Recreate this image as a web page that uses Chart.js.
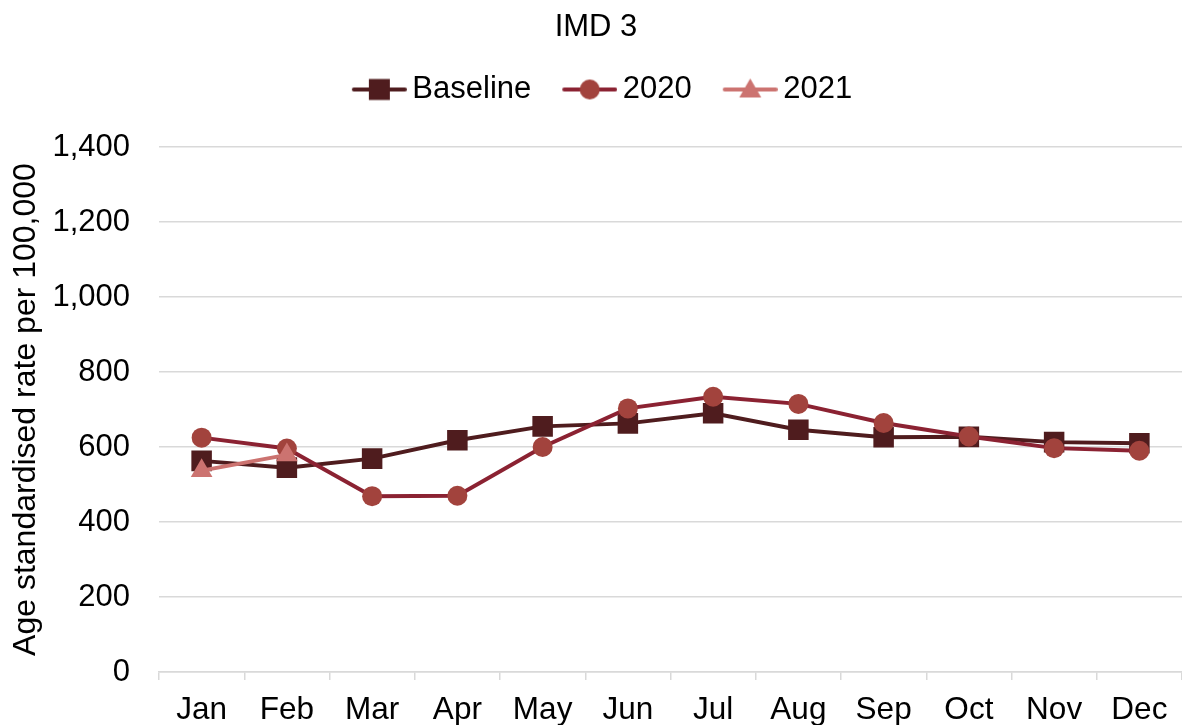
<!DOCTYPE html>
<html>
<head>
<meta charset="utf-8">
<script src="https://cdn.jsdelivr.net/npm/chart.js@4.4.1/dist/chart.umd.min.js"></script>
<style>
  html, body { margin: 0; padding: 0; background: #fff; }
  #wrap { width: 1182px; height: 725px; overflow: hidden; }
</style>
</head>
<body>
<div id="wrap"><canvas id="chart" width="1182" height="725"></canvas></div>
<script>
// data
const months = ['Jan', 'Feb', 'Mar', 'Apr', 'May', 'Jun', 'Jul', 'Aug', 'Sep', 'Oct', 'Nov', 'Dec'];
const baseline = [563, 545, 569, 618, 655, 663, 690, 646, 626, 627, 613, 610];
const y2020 = [625, 596, 469, 470, 600, 703, 734, 715, 664, 628, 597, 590];
const y2021 = [537, 579];
const yTicks = [0, 200, 400, 600, 800, 1000, 1200, 1400];

const FONT = '"Liberation Sans", Arial, sans-serif';
const GRID = '#d9d9d9';

Chart.defaults.font.family = FONT;
Chart.defaults.color = '#000';

// legend icon: line with the marker in the middle
function legendIcon(lineColor, markColor, style) {
    const c = document.createElement('canvas');
    c.width = 65;
    c.height = 30;
    const ctx = c.getContext('2d');
    ctx.strokeStyle = lineColor;
    ctx.lineWidth = 4;
    ctx.lineCap = 'round';
    ctx.beginPath();
    ctx.moveTo(12, 15);
    ctx.lineTo(63, 15);
    ctx.stroke();
    ctx.fillStyle = markColor;
    const cx = 37.5, cy = 15;
    ctx.beginPath();
    if (style === 'rect') {
        ctx.rect(cx - 10.5, cy - 10.5, 21, 21);
    } else if (style === 'circle') {
        ctx.arc(cx, cy, 10, 0, Math.PI * 2);
    } else {
        ctx.moveTo(cx, cy - 11);
        ctx.lineTo(cx + 11, cy + 8);
        ctx.lineTo(cx - 11, cy + 8);
        ctx.closePath();
    }
    ctx.fill();
    return c;
}

const series = [
    { label: 'Baseline', data: baseline, line: '#4f1c1e', mark: '#4f1c1e', style: 'rect', r: 14.5 },
    { label: '2020', data: y2020, line: '#8b2232', mark: '#a2433d', style: 'circle', r: 10 },
    { label: '2021', data: y2021, line: '#cc7370', mark: '#cc7370', style: 'triangle', r: 12.5 }
];

// legend needs more room below it, and sits a little right of centre
const legendSpacer = {
    id: 'legendSpacer',
    beforeInit(chart) {
        const fit = chart.legend.fit;
        chart.legend.fit = function () {
            fit.call(this);
            this.height += 32;
        };
    },
    afterLayout(chart) {
        chart.legend.left += 6;
        chart.legend.right += 6;
    }
};

new Chart(document.getElementById('chart'), {
    type: 'line',
    data: {
        labels: months,
        datasets: series.map((s, i) => ({
            label: s.label,
            data: s.data,
            borderColor: s.line,
            backgroundColor: s.mark,
            pointBackgroundColor: s.mark,
            pointBorderWidth: 0,
            pointStyle: s.style,
            pointRadius: s.r,
            borderWidth: 4,
            tension: 0,
            fill: false,
            order: 3 - i
        }))
    },
    options: {
        responsive: false,
        animation: false,
        devicePixelRatio: 1,
        // the plot runs past the right edge of the picture
        layout: { autoPadding: false, padding: { left: 1, right: -9, top: 0, bottom: 0 } },
        plugins: {
            title: {
                display: true,
                text: 'IMD 3',
                font: { size: 31, weight: 'normal', lineHeight: 1 },
                padding: { top: 12, bottom: 0 }
            },
            legend: {
                display: true,
                labels: {
                    font: { size: 31 },
                    usePointStyle: true,
                    pointStyleWidth: 45,
                    boxWidth: 45,
                    padding: 31,
                    generateLabels: () => series.map((s, i) => ({
                        text: s.label,
                        pointStyle: legendIcon(s.line, s.mark, s.style),
                        fillStyle: s.mark,
                        strokeStyle: s.line,
                        lineWidth: 0,
                        hidden: false,
                        datasetIndex: i
                    }))
                }
            },
            tooltip: { enabled: false }
        },
        scales: {
            x: {
                offset: true,
                grid: {
                    offset: true,
                    drawOnChartArea: false,
                    drawTicks: true,
                    tickLength: 8,
                    color: GRID,
                    lineWidth: 1.5
                },
                border: { display: true, color: GRID, width: 1.5 },
                ticks: { font: { size: 31.5 }, padding: 11, maxRotation: 0, autoSkip: false },
                afterFit: s => {
                    s.height = 53;
                    s.paddingLeft = 0;
                    s.paddingRight = 0;
                }
            },
            y: {
                min: 0,
                max: 1400,
                afterBuildTicks: s => { s.ticks = yTicks.map(v => ({ value: v })); },
                grid: { color: GRID, lineWidth: 1.5, drawTicks: false },
                border: { display: false },
                ticks: {
                    font: { size: 31 },
                    padding: 29,
                    callback: v => v.toLocaleString('en-US')
                },
                title: {
                    display: true,
                    text: 'Age standardised rate per 100,000',
                    font: { size: 32, lineHeight: 1 },
                    padding: { top: 9, bottom: 0 }
                },
                afterFit: s => { s.width = 158; }
            }
        }
    },
    plugins: [legendSpacer]
});
</script>
</body>
</html>
